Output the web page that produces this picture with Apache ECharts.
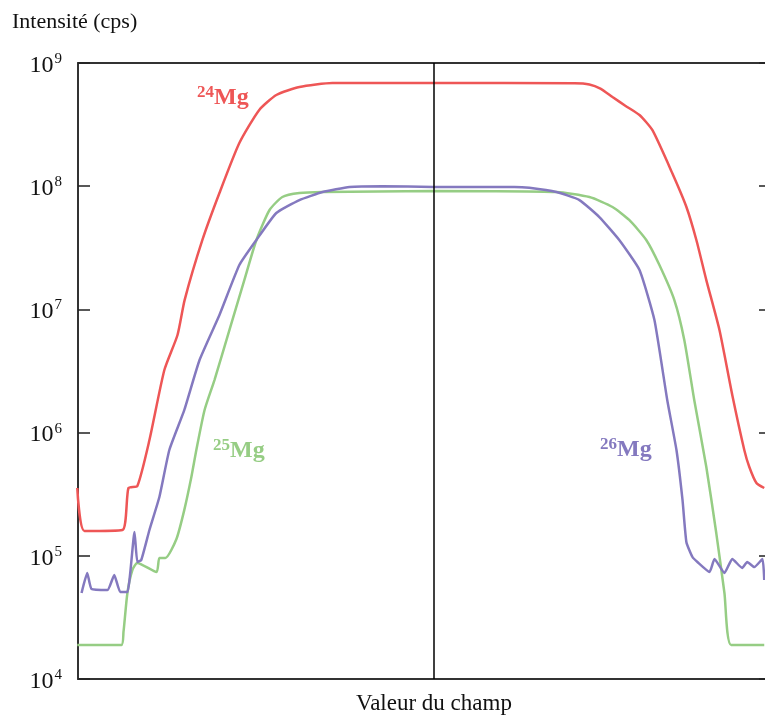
<!DOCTYPE html>
<html>
<head>
<meta charset="utf-8">
<script src="https://cdn.jsdelivr.net/npm/echarts@6/dist/echarts.min.js"></script>
<style>
html,body{margin:0;padding:0;background:#fff;}
#c{width:765px;height:715px;}
</style>
</head>
<body>
<div id="c"></div>
<script>
// Field value (arbitrary units, 0 = centre line) and intensity (cps)
const xMg24 = [-100.2, -98.2, -87.5, -85.8, -83.3, -79.9, -75.7, -72.0, -70.0, -65.0, -60.2, -54.6, -49.0, -44.2, -37.7, -28.4, 0, 39.7, 43.9, 47.0, 50.4, 54.0, 58.0, 61.6, 67.2, 71.2, 74.0, 76.8, 80.5, 84.1, 87.5, 88.9, 90.9, 93.1];
const yMg24 = [3.55e5, 1.59e5, 1.62e5, 3.55e5, 3.69e5, 8.7e5, 3.22e6, 6.2e6, 1.19e7, 3.66e7, 8.8e7, 2.24e8, 4.16e8, 5.5e8, 6.38e8, 6.88e8, 6.88e8, 6.85e8, 6.7e8, 6.2e8, 5.3e8, 4.5e8, 3.78e8, 2.86e8, 1.28e8, 6.78e7, 3.66e7, 1.73e7, 6.8e6, 2.02e6, 7.2e5, 5.26e5, 3.9e5, 3.55e5];

const xMg25 = [-100.2, -87.8, -87.2, -86.1, -84.7, -83.3, -77.9, -77.1, -75.4, -72.3, -70.1, -68.1, -66.7, -64.4, -61.6, -57.4, -53.2, -49.8, -46.1, -42.5, -37.7, -31.2, 0, 34.6, 43.9, 50.4, 55.1, 59.9, 63.6, 67.8, 70.6, 73.4, 76.8, 79.6, 81.9, 83.8, 93.1];
const yMg25 = [1.89e4, 1.89e4, 2.41e4, 4.99e4, 7.67e4, 8.75e4, 7.39e4, 9.6e4, 9.6e4, 1.37e5, 2.35e5, 4.36e5, 7.22e5, 1.52e6, 2.67e6, 6.8e6, 1.73e7, 3.66e7, 6.41e7, 8.17e7, 8.8e7, 8.97e7, 9.14e7, 8.97e7, 8.17e7, 6.78e7, 5.32e7, 3.66e7, 2.29e7, 1.19e7, 5.65e6, 1.84e6, 5.26e5, 1.53e5, 4.99e4, 1.89e4, 1.89e4];

const xMg26 = [-99.0, -97.4, -96.2, -91.7, -89.8, -88.1, -86.1, -84.1, -83.3, -82.2, -79.9, -77.1, -74.3, -70.1, -65.8, -60.2, -54.6, -49.8, -44.2, -37.7, -31.2, -23.6, -14.4, 0, 22.8, 27.0, 34.6, 41.1, 46.7, 52.3, 58.0, 62.2, 65.8, 68.4, 70.1, 71.2, 72.9, 74.3, 77.7, 79.1, 81.9, 84.1, 86.9, 88.3, 90.3, 92.6, 93.1];
const yMg26 = [4.99e4, 7.25e4, 5.38e4, 5.28e4, 6.98e4, 5.08e4, 5.08e4, 1.56e5, 8.9e4, 9.25e4, 1.62e5, 3.0e5, 7.22e5, 1.52e6, 3.88e6, 9.0e6, 2.29e7, 3.66e7, 6.06e7, 7.72e7, 8.97e7, 9.86e7, 1.0e8, 9.86e7, 9.86e7, 9.7e7, 8.97e7, 7.72e7, 5.62e7, 3.66e7, 2.09e7, 8.2e6, 1.84e6, 7.22e5, 2.84e5, 1.29e5, 9.78e4, 8.9e4, 7.39e4, 9.42e4, 7.25e4, 9.42e4, 7.96e4, 8.9e4, 8.1e4, 9.42e4, 6.36e4];

const seriesNames = ['24Mg', '25Mg', '26Mg'];
const isoMass = ['24', '25', '26'];
const colors = ['#ee5656', '#96cd84', '#8479bf'];
const smoothing = [0.2, 0.2, 0.15];
const yTitle = 'Intensité (cps)';
const xTitle = 'Valeur du champ';

const FONT = 'Liberation Serif';
function pairs(xs, ys){ return xs.map((x,i)=>[x, ys[i]]); }

const chart = echarts.init(document.getElementById('c'), null, {renderer:'canvas'});
const axisLine = {show:true, onZero:false, lineStyle:{color:'#333', width:2}};
const tickStyle = {show:true, inside:true, length:12, lineStyle:{color:'#222', width:1.5}};

const option = {
  animation:false,
  backgroundColor:'#fff',
  grid:{left:78, top:63, width:693, bottom:36, containLabel:false, outerBoundsMode:'none'},
  xAxis:[
    {type:'value', min:-100, max:95, position:'bottom', axisLine:axisLine, axisTick:{show:false}, axisLabel:{show:false}, splitLine:{show:false}},
    {type:'value', min:-100, max:95, position:'top', axisLine:axisLine, axisTick:{show:false}, axisLabel:{show:false}, splitLine:{show:false}}
  ],
  yAxis:[
    {type:'log', logBase:10, min:1e4, max:1e9, position:'left', axisLine:axisLine, axisTick:tickStyle, splitLine:{show:false}, minorTick:{show:false},
     axisLabel:{margin:16, formatter:function(v){ return '{b|10}{s|' + Math.round(Math.log10(v)) + '}'; },
       rich:{ b:{fontFamily:FONT, fontSize:24, color:'#111', padding:[5,0,0,0]}, s:{fontFamily:FONT, fontSize:15, color:'#111', padding:[0,0,8,1]} }}},
    {type:'log', logBase:10, min:1e4, max:1e9, position:'right', axisLine:axisLine, axisTick:tickStyle, axisLabel:{show:false}, splitLine:{show:false}}
  ],
  series: [pairs(xMg24,yMg24), pairs(xMg25,yMg25), pairs(xMg26,yMg26)].map((d,i)=>({
    name:seriesNames[i], type:'line', data:d, showSymbol:false, symbol:'none',
    smooth:smoothing[i],
    lineStyle:{color:colors[i], width:2.5}, z:3,
    markLine: i===0 ? {silent:true, symbol:['none','none'], label:{show:false},
      lineStyle:{color:'#000', width:1.5, type:'solid'}, data:[{xAxis:0}]} : undefined
  })),
  graphic:[
    {type:'text', left:12, top:11, style:{text:yTitle, font:'22px "'+FONT+'"', fill:'#111'}},
    {type:'text', x:434, y:704, style:{text:xTitle, font:'23px "'+FONT+'"', fill:'#111', textAlign:'center', textVerticalAlign:'middle'}},
    {type:'text', x:197, y:98, style:{text:'{s|'+isoMass[0]+'}{m|Mg}', fill:colors[0], textVerticalAlign:'middle',
      rich:{s:{fontFamily:FONT, fontSize:17, fontWeight:'bold', fill:colors[0], padding:[0,0,10,0]}, m:{fontFamily:FONT, fontSize:24, fontWeight:'bold', fill:colors[0]}}}},
    {type:'text', x:213, y:451, style:{text:'{s|'+isoMass[1]+'}{m|Mg}', fill:colors[1], textVerticalAlign:'middle',
      rich:{s:{fontFamily:FONT, fontSize:17, fontWeight:'bold', fill:colors[1], padding:[0,0,10,0]}, m:{fontFamily:FONT, fontSize:24, fontWeight:'bold', fill:colors[1]}}}},
    {type:'text', x:600, y:450, style:{text:'{s|'+isoMass[2]+'}{m|Mg}', fill:colors[2], textVerticalAlign:'middle',
      rich:{s:{fontFamily:FONT, fontSize:17, fontWeight:'bold', fill:colors[2], padding:[0,0,10,0]}, m:{fontFamily:FONT, fontSize:24, fontWeight:'bold', fill:colors[2]}}}}
  ]
};
chart.setOption(option);
</script>
</body>
</html>
